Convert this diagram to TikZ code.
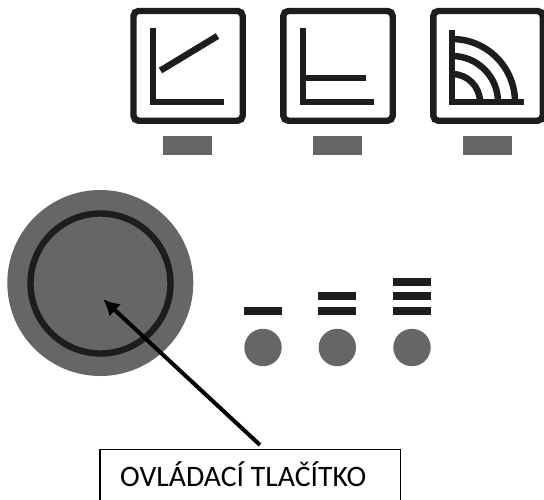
\documentclass[tikz,border=0pt]{standalone}
\usepackage{fontspec}
\setmainfont{Carlito}
\usetikzlibrary{arrows.meta}
\definecolor{ink}{HTML}{1D1D1B}
\definecolor{pad}{HTML}{666664}
\tikzset{
  frame/.style={draw=ink,line width=6.4pt,rounded corners=5pt},
  glyph/.style={draw=ink,line width=6.5pt},
  lamp/.style={circle,fill=pad,draw=none,minimum size=37.4pt,inner sep=0pt},
  knob/.style={circle,fill=pad,draw=none,minimum size=186pt,inner sep=0pt},
  ring/.style={circle,draw=ink,line width=6.4pt,minimum size=140pt,inner sep=0pt,outer sep=0pt},
  label/.style={draw=black,line width=1.5pt,minimum width=300.5pt,minimum height=70pt,inner sep=0pt}
}
\begin{document}
\begin{tikzpicture}[x=1pt,y=-1pt]
\useasboundingbox (0,0) rectangle (544,499);
\clip (0,0) rectangle (544,499);
% icon 1
\draw[frame] (133.5,11) rectangle (242.7,120.7);
\draw[glyph] (153,27.7) -- (153,102) -- (223.7,102);
\draw[glyph] (160.5,70.5) -- (217.5,36);
\fill[pad] (163,136) rectangle (212,155);
% icon 2
\draw[frame] (283.3,11) rectangle (392.7,120.7);
\draw[glyph] (303,27.7) -- (303,102) -- (373.7,102);
\draw[glyph] (303,78) -- (365.7,78);
\fill[pad] (313,136) rectangle (362,155);
% icon 3
\draw[frame] (433.3,11) rectangle (542.7,120.7);
\draw[glyph] (452,30) -- (452,102) -- (523.7,102);
\draw[glyph] (452,74) arc[start angle=-90,end angle=0,radius=28];
\draw[glyph] (452,56) arc[start angle=-90,end angle=0,radius=46];
\draw[glyph] (452,39) arc[start angle=-90,end angle=0,radius=63];
\fill[pad] (463,136) rectangle (512,155);
% knob
\node[knob] (k) at (100.3,283) {};
\node[ring] (r) at (100.5,283.5) {};
% level bars
\fill[ink] (244,307) rectangle (282,315);
\fill[ink] (318,292) rectangle (356,300);
\fill[ink] (318,307) rectangle (356,315);
\fill[ink] (393,278) rectangle (431,286);
\fill[ink] (393,292) rectangle (431,300);
\fill[ink] (393,307) rectangle (431,315);
\node[lamp] (l1) at (263,347.5) {};
\node[lamp] (l2) at (337.3,347.5) {};
\node[lamp] (l3) at (412,347.5) {};
% label
\node[label,anchor=north west] (t) at (99,448.5) {};
\node[anchor=base west,inner sep=0pt,font=\fontsize{29.7pt}{34pt}\selectfont] (tt) at (120,486) {OVLÁDACÍ TLAČÍTKO};
\coordinate (tip) at (103.3,299.3);
\coordinate (tail) at (260,445);
\draw[line width=4pt,-{Latex[length=16pt,width=17pt]}] (tail) -- (tip);
\end{tikzpicture}
\end{document}
